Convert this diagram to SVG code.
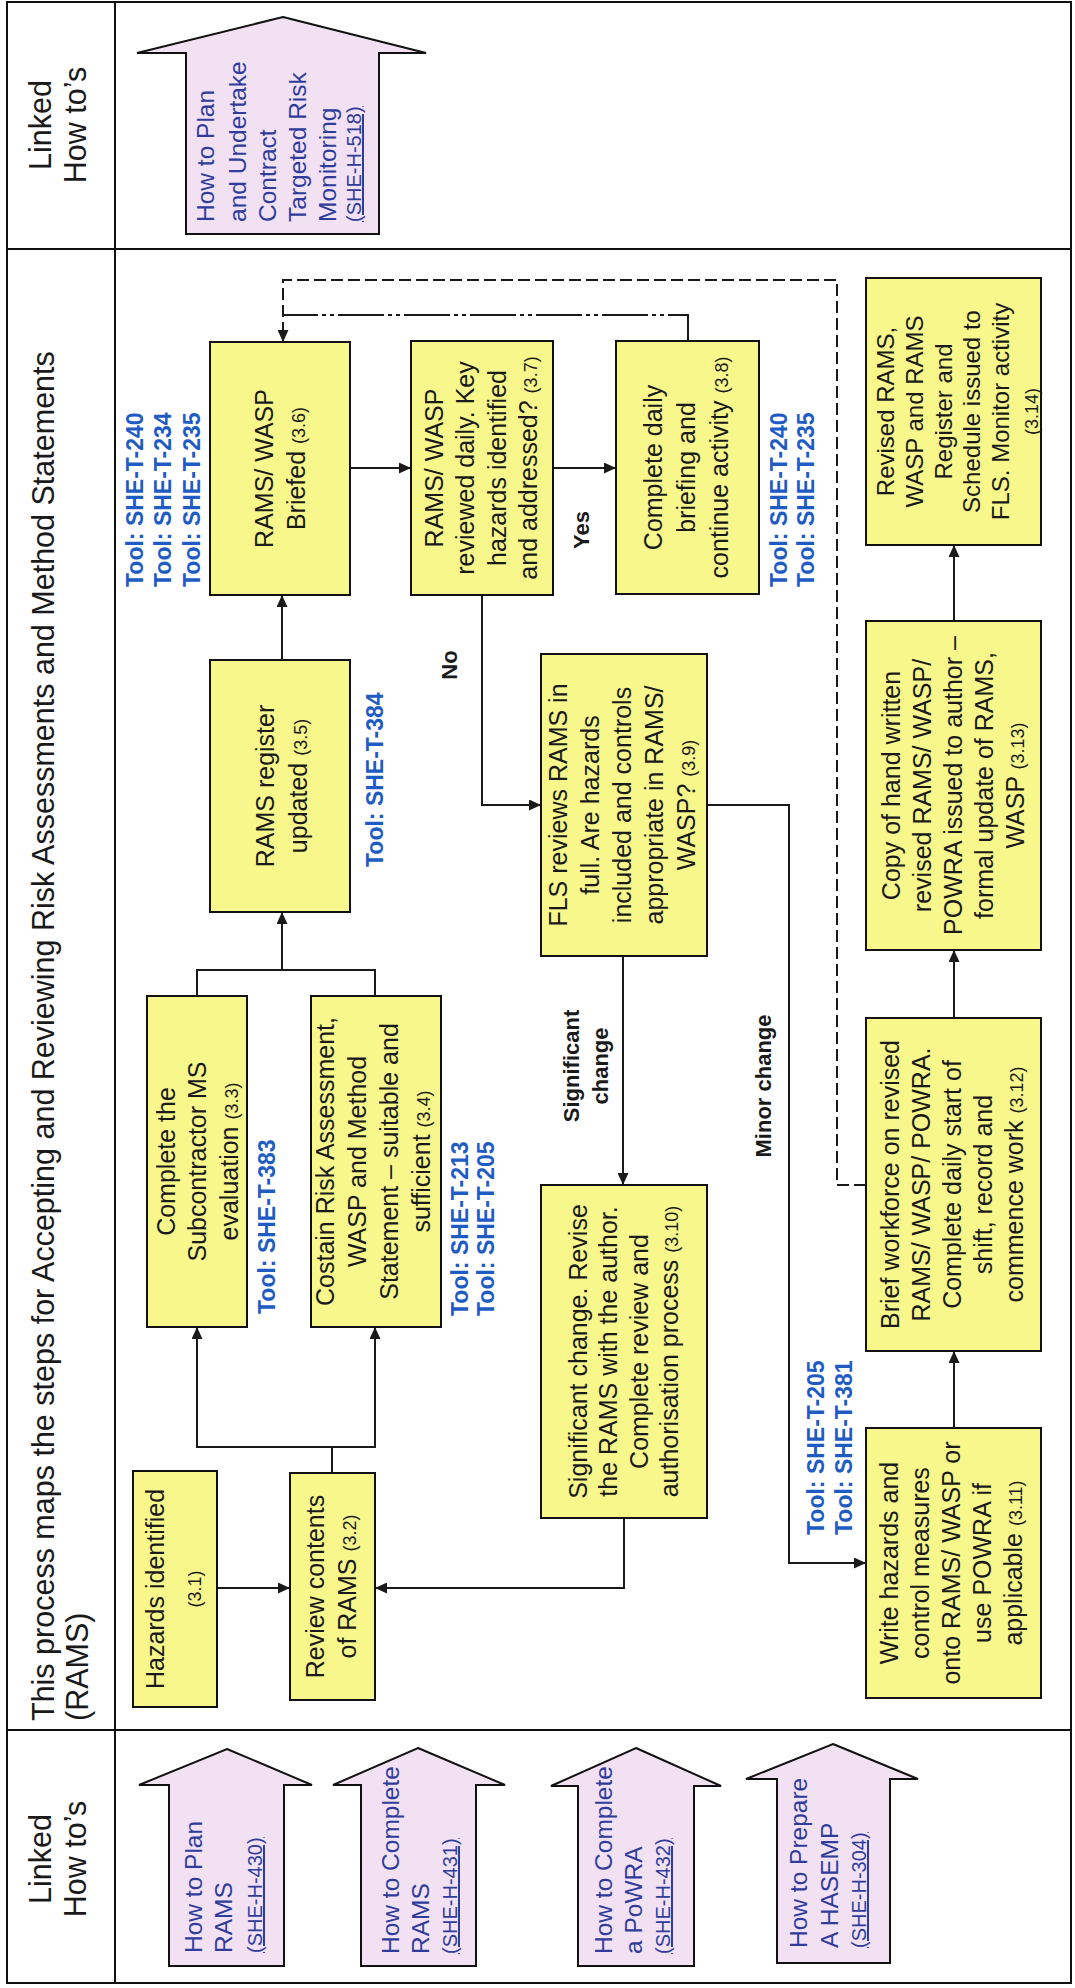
<svg xmlns="http://www.w3.org/2000/svg" width="1075" height="1988" viewBox="0 0 1075 1988">
<style>
.frame{fill:none;stroke:#111;stroke-width:2}
.box{fill:#F7F78C;stroke:#111;stroke-width:2}
.howto{fill:#F2E1F2;stroke:#111;stroke-width:2;stroke-linejoin:miter}
.t{font-family:"Liberation Sans",Arial,sans-serif;font-size:25px;fill:#1a1a1a}
.ref{font-size:18px}
.hdr{font-family:"Liberation Sans",Arial,sans-serif;font-size:30.5px;fill:#1a1a1a}
.tool{font-family:"Liberation Sans",Arial,sans-serif;font-size:23px;font-weight:bold;fill:#1E5CC4}
.lbl{font-family:"Liberation Sans",Arial,sans-serif;font-size:22px;font-weight:bold;fill:#1a1a1a}
.ht{font-family:"Liberation Sans",Arial,sans-serif;font-size:24.5px;fill:#2F3C9C}
.code{font-size:20px;text-decoration:underline}
.c{fill:none;stroke:#1a1a1a;stroke-width:2}
.dash{stroke-dasharray:12 5}
.dashdot{stroke-dasharray:46 4 4 4 4 4}
</style>
<defs>
<marker id="ah" markerUnits="userSpaceOnUse" markerWidth="12" markerHeight="11" refX="12" refY="5.5" orient="auto">
<path d="M0,0 L12,5.5 L0,11 z" fill="#1a1a1a"/>
</marker>
</defs>
<rect width="1075" height="1988" fill="#fff"/>

<g id="table">
<rect class="frame" x="7" y="2" width="1064" height="1981"/>
<line class="frame" x1="115" y1="2" x2="115" y2="1983"/>
<line class="frame" x1="7" y1="249" x2="1071" y2="249"/>
<line class="frame" x1="7" y1="1730" x2="1071" y2="1730"/>
</g>

<g id="headers">
<text class="hdr" text-anchor="middle" transform="translate(40,125) rotate(-90)"><tspan x="0" y="11">Linked</tspan><tspan x="0" y="46">How to’s</tspan></text>
<text class="hdr" transform="translate(43,1721) rotate(-90)"><tspan x="0" y="11">This process maps the steps for Accepting and Reviewing Risk Assessments and Method Statements</tspan><tspan x="0" y="45">(RAMS)</tspan></text>
<text class="hdr" text-anchor="middle" transform="translate(40,1859) rotate(-90)"><tspan x="0" y="11">Linked</tspan><tspan x="0" y="46">How to’s</tspan></text>
</g>

<g id="howto-518">
<polygon class="howto" points="283,17 426,53 379,53 379,234 186,234 186,53 137,53"/>
<text class="ht" transform="translate(205,222) rotate(-90)"><tspan x="0" y="9">How to Plan</tspan><tspan x="0" y="41">and Undertake</tspan><tspan x="0" y="71">Contract</tspan><tspan x="0" y="101">Targeted Risk</tspan><tspan x="0" y="131">Monitoring</tspan><tspan x="0" y="156" class="code">(SHE-H-518)</tspan></text>
</g>

<g id="howto-430">
<polygon class="howto" points="227,1749 312,1785 284,1785 284,1966 169,1966 169,1785 139,1785"/>
<text class="ht" transform="translate(193,1953) rotate(-90)"><tspan x="0" y="9">How to Plan</tspan><tspan x="0" y="39">RAMS</tspan><tspan x="0" y="69" class="code">(SHE-H-430)</tspan></text>
</g>
<g id="howto-431">
<polygon class="howto" points="418,1748 505,1785 476,1785 476,1966 361,1966 361,1785 333,1785"/>
<text class="ht" transform="translate(390,1954) rotate(-90)"><tspan x="0" y="9">How to Complete</tspan><tspan x="0" y="39">RAMS</tspan><tspan x="0" y="67" class="code">(SHE-H-431)</tspan></text>
</g>
<g id="howto-432">
<polygon class="howto" points="636,1748 721,1786 694,1786 694,1966 578,1966 578,1786 551,1786"/>
<text class="ht" transform="translate(603,1954) rotate(-90)"><tspan x="0" y="9">How to Complete</tspan><tspan x="0" y="39">a PoWRA</tspan><tspan x="0" y="67" class="code">(SHE-H-432)</tspan></text>
</g>
<g id="howto-304">
<polygon class="howto" points="833,1744 918,1779 890,1779 890,1963 777,1963 777,1779 746,1779"/>
<text class="ht" transform="translate(798,1948) rotate(-90)"><tspan x="0" y="9">How to Prepare</tspan><tspan x="0" y="40">A HASEMP</tspan><tspan x="0" y="68" class="code">(SHE-H-304)</tspan></text>
</g>

<g id="connectors">
<path class="c" d="M217,1588 H290" marker-end="url(#ah)"/>
<path class="c" d="M332,1473 V1447"/>
<path class="c" d="M332,1447 H197 V1327" marker-end="url(#ah)"/>
<path class="c" d="M332,1447 H375 V1327" marker-end="url(#ah)"/>
<path class="c" d="M197,996 V970 H375 V996"/>
<path class="c" d="M282,970 V912" marker-end="url(#ah)"/>
<path class="c" d="M282,660 V595" marker-end="url(#ah)"/>
<path class="c" d="M350,468 H411" marker-end="url(#ah)"/>
<path class="c" d="M553,468 H616" marker-end="url(#ah)"/>
<path class="c" d="M482,595 V805 H541" marker-end="url(#ah)"/>
<path class="c" d="M623,956 V1185" marker-end="url(#ah)"/>
<path class="c" d="M624,1518 V1588 H375" marker-end="url(#ah)"/>
<path class="c" d="M707,805 H789 V1563 H866" marker-end="url(#ah)"/>
<path class="c" d="M954,1428 V1351" marker-end="url(#ah)"/>
<path class="c" d="M954,1018 V950" marker-end="url(#ah)"/>
<path class="c" d="M954,621 V545" marker-end="url(#ah)"/>
<path class="c dash" d="M866,1185 H837 V280 H283 V342" marker-end="url(#ah)"/>
<path class="c dashdot" d="M688,341 V315 H283"/>
</g>

<g id="labels">
<text class="lbl" text-anchor="middle" transform="translate(581,530) rotate(-90)"><tspan x="0" y="8">Yes</tspan></text>
<text class="lbl" text-anchor="middle" transform="translate(449,665) rotate(-90)"><tspan x="0" y="8">No</tspan></text>
<text class="lbl" text-anchor="middle" transform="translate(571,1066) rotate(-90)"><tspan x="0" y="8">Significant</tspan><tspan x="0" y="37">change</tspan></text>
<text class="lbl" text-anchor="middle" transform="translate(763,1086) rotate(-90)"><tspan x="0" y="8">Minor change</tspan></text>
</g>

<g id="tools">
<text class="tool" transform="translate(135,587) rotate(-90)"><tspan x="0" y="8">Tool: SHE-T-240</tspan><tspan x="0" y="36">Tool: SHE-T-234</tspan><tspan x="0" y="65">Tool: SHE-T-235</tspan></text>
<text class="tool" transform="translate(375,867) rotate(-90)"><tspan x="0" y="8">Tool: SHE-T-384</tspan></text>
<text class="tool" transform="translate(267,1314) rotate(-90)"><tspan x="0" y="8">Tool: SHE-T-383</tspan></text>
<text class="tool" transform="translate(460,1316) rotate(-90)"><tspan x="0" y="8">Tool: SHE-T-213</tspan><tspan x="0" y="34">Tool: SHE-T-205</tspan></text>
<text class="tool" transform="translate(779,587) rotate(-90)"><tspan x="0" y="8">Tool: SHE-T-240</tspan><tspan x="0" y="35">Tool: SHE-T-235</tspan></text>
<text class="tool" transform="translate(816,1535) rotate(-90)"><tspan x="0" y="8">Tool: SHE-T-205</tspan><tspan x="0" y="36">Tool: SHE-T-381</tspan></text>
</g>

<g id="n3-1">
<rect class="box" x="133" y="1471" width="84" height="236"/>
<text class="t" text-anchor="middle" transform="translate(173.5,1589) rotate(-90)"><tspan x="0" y="-9.5">Hazards identified</tspan><tspan x="0" y="27.5" class="ref">(3.1)</tspan></text>
</g>
<g id="n3-2">
<rect class="box" x="290" y="1473" width="85" height="227"/>
<text class="t" text-anchor="middle" transform="translate(331,1586.5) rotate(-90)"><tspan x="0" y="-7">Review contents</tspan><tspan x="0" y="25">of RAMS <tspan class="ref">(3.2)</tspan></tspan></text>
</g>
<g id="n3-3">
<rect class="box" x="147" y="996" width="100" height="331"/>
<text class="t" text-anchor="middle" transform="translate(197,1161.5) rotate(-90)"><tspan x="0" y="-22.5">Complete the</tspan><tspan x="0" y="9">Subcontractor MS</tspan><tspan x="0" y="40.5">evaluation <tspan class="ref">(3.3)</tspan></tspan></text>
</g>
<g id="n3-4">
<rect class="box" x="311" y="996" width="130" height="331"/>
<text class="t" text-anchor="middle" transform="translate(373,1161.5) rotate(-90)"><tspan x="0" y="-39">Costain Risk Assessment,</tspan><tspan x="0" y="-7">WASP and Method</tspan><tspan x="0" y="25">Statement – suitable and</tspan><tspan x="0" y="57">sufficient <tspan class="ref">(3.4)</tspan></tspan></text>
</g>
<g id="n3-5">
<rect class="box" x="210" y="660" width="140" height="252"/>
<text class="t" text-anchor="middle" transform="translate(281,786) rotate(-90)"><tspan x="0" y="-7.5">RAMS register</tspan><tspan x="0" y="25.5">updated <tspan class="ref">(3.5)</tspan></tspan></text>
</g>
<g id="n3-6">
<rect class="box" x="210" y="342" width="140" height="253"/>
<text class="t" text-anchor="middle" transform="translate(280,468.5) rotate(-90)"><tspan x="0" y="-7">RAMS/ WASP</tspan><tspan x="0" y="25">Briefed <tspan class="ref">(3.6)</tspan></tspan></text>
</g>
<g id="n3-7">
<rect class="box" x="411" y="341" width="142" height="254"/>
<text class="t" text-anchor="middle" transform="translate(480.5,468) rotate(-90)"><tspan x="0" y="-38">RAMS/ WASP</tspan><tspan x="0" y="-6.5">reviewed daily. Key</tspan><tspan x="0" y="25">hazards identified</tspan><tspan x="0" y="56.5">and addressed? <tspan class="ref">(3.7)</tspan></tspan></text>
</g>
<g id="n3-8">
<rect class="box" x="616" y="341" width="143" height="253"/>
<text class="t" text-anchor="middle" transform="translate(686,467.5) rotate(-90)"><tspan x="0" y="-24">Complete daily</tspan><tspan x="0" y="9">briefing and</tspan><tspan x="0" y="42">continue activity <tspan class="ref">(3.8)</tspan></tspan></text>
</g>
<g id="n3-9">
<rect class="box" x="541" y="654" width="166" height="302"/>
<text class="t" text-anchor="middle" transform="translate(622,805) rotate(-90)"><tspan x="0" y="-55">FLS reviews RAMS in</tspan><tspan x="0" y="-23">full. Are hazards</tspan><tspan x="0" y="9">included and controls</tspan><tspan x="0" y="41">appropriate in RAMS/</tspan><tspan x="0" y="73">WASP? <tspan class="ref">(3.9)</tspan></tspan></text>
</g>
<g id="n3-10">
<rect class="box" x="541" y="1185" width="166" height="333"/>
<text class="t" text-anchor="middle" transform="translate(623.5,1351.5) rotate(-90)"><tspan x="0" y="-36.75">Significant change. Revise</tspan><tspan x="0" y="-6.25">the RAMS with the author.</tspan><tspan x="0" y="24.25">Complete review and</tspan><tspan x="0" y="54.75">authorisation process <tspan class="ref">(3.10)</tspan></tspan></text>
</g>
<g id="n3-11">
<rect class="box" x="866" y="1428" width="175" height="270"/>
<text class="t" text-anchor="middle" transform="translate(951,1563) rotate(-90)"><tspan x="0" y="-53">Write hazards and</tspan><tspan x="0" y="-22">control measures</tspan><tspan x="0" y="9">onto RAMS/ WASP or</tspan><tspan x="0" y="40">use POWRA if</tspan><tspan x="0" y="71">applicable <tspan class="ref">(3.11)</tspan></tspan></text>
</g>
<g id="n3-12">
<rect class="box" x="866" y="1018" width="175" height="333"/>
<text class="t" text-anchor="middle" transform="translate(951.5,1184.5) rotate(-90)"><tspan x="0" y="-53">Brief workforce on revised</tspan><tspan x="0" y="-22">RAMS/ WASP/ POWRA.</tspan><tspan x="0" y="9">Complete daily start of</tspan><tspan x="0" y="40">shift, record and</tspan><tspan x="0" y="71">commence work <tspan class="ref">(3.12)</tspan></tspan></text>
</g>
<g id="n3-13">
<rect class="box" x="866" y="621" width="175" height="329"/>
<text class="t" text-anchor="middle" transform="translate(952.5,785.5) rotate(-90)"><tspan x="0" y="-53">Copy of hand written</tspan><tspan x="0" y="-22">revised RAMS/ WASP/</tspan><tspan x="0" y="9">POWRA issued to author –</tspan><tspan x="0" y="40">formal update of RAMS,</tspan><tspan x="0" y="71">WASP <tspan class="ref">(3.13)</tspan></tspan></text>
</g>
<g id="n3-14">
<rect class="box" x="866" y="278" width="175" height="267"/>
<text class="t" text-anchor="middle" font-size="24" transform="translate(957,411.5) rotate(-90)" style="font-size:24px"><tspan x="0" y="-62.75">Revised RAMS,</tspan><tspan x="0" y="-34">WASP and RAMS</tspan><tspan x="0" y="-5.4">Register and</tspan><tspan x="0" y="23.3">Schedule issued to</tspan><tspan x="0" y="52">FLS. Monitor activity</tspan><tspan x="0" y="80.75" class="ref">(3.14)</tspan></text>
</g>
</svg>
